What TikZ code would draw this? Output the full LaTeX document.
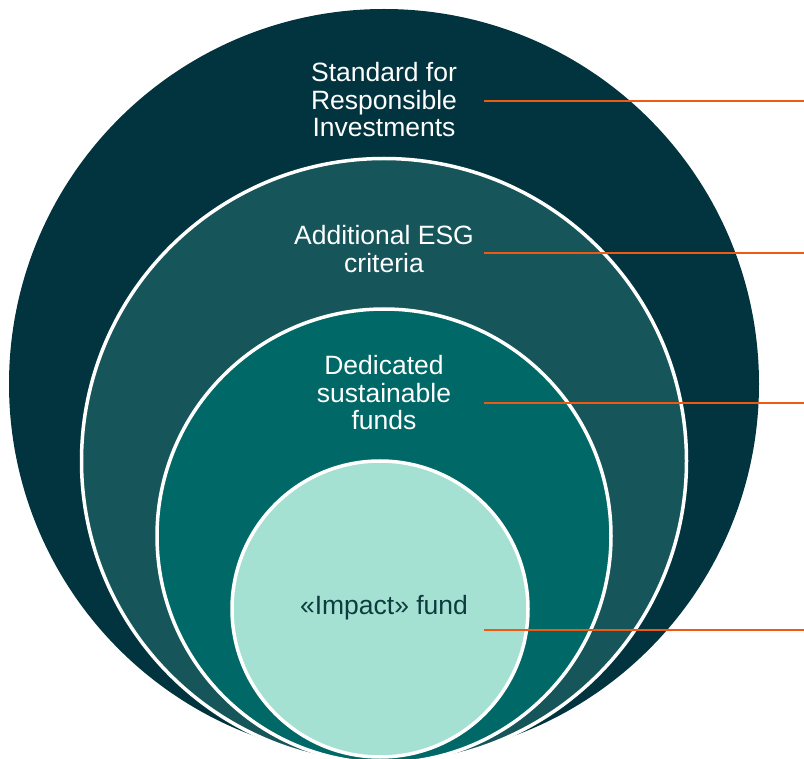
\documentclass[tikz,border=0pt]{standalone}
\usepackage{fontspec}
\setmainfont{Liberation Sans}
\definecolor{c1}{HTML}{02343F}
\definecolor{c2}{HTML}{16555A}
\definecolor{c3}{HTML}{006967}
\definecolor{c4}{HTML}{A5E1D3}
\definecolor{txtdark}{HTML}{0D3B3E}
\definecolor{orng}{HTML}{EE5A12}
\begin{document}
\begin{tikzpicture}[x=1pt,y=-1pt,
  ring/.style={circle, inner sep=0pt, draw=white, line width=3.5pt},
  lbl/.style={align=center, text=white, font=\fontsize{26.5}{27.5}\selectfont},
  leader/.style={draw=orng, line width=1.6pt}]
\useasboundingbox (0,0) rectangle (804,759);
\clip (0,0) rectangle (804,759);
\node[circle, inner sep=0pt, fill=c1, minimum size=750pt] (c1) at (384,384) {};
\node[ring, fill=c2, minimum size=605pt] (c2) at (384,461) {};
\node[ring, fill=c3, minimum size=454pt] (c3) at (384,536) {};
\node[ring, fill=c4, minimum size=296pt] (c4) at (380,609) {};
\node[lbl] (t1) at (384,100) {Standard for\\Responsible\\Investments};
\node[lbl] (t2) at (384,249) {Additional ESG\\criteria};
\node[lbl] (t3) at (384,393) {Dedicated\\sustainable\\funds};
\node[lbl, text=txtdark] (t4) at (384,608) {«Impact» fund};
\coordinate (s1) at (484,101); \coordinate (e1) at (804,101);
\coordinate (s2) at (484,253); \coordinate (e2) at (804,253);
\coordinate (s3) at (484,403); \coordinate (e3) at (804,403);
\coordinate (s4) at (484,630); \coordinate (e4) at (804,630);
\draw[leader] (s1) -- (e1);
\draw[leader] (s2) -- (e2);
\draw[leader] (s3) -- (e3);
\draw[leader] (s4) -- (e4);
\end{tikzpicture}
\end{document}
